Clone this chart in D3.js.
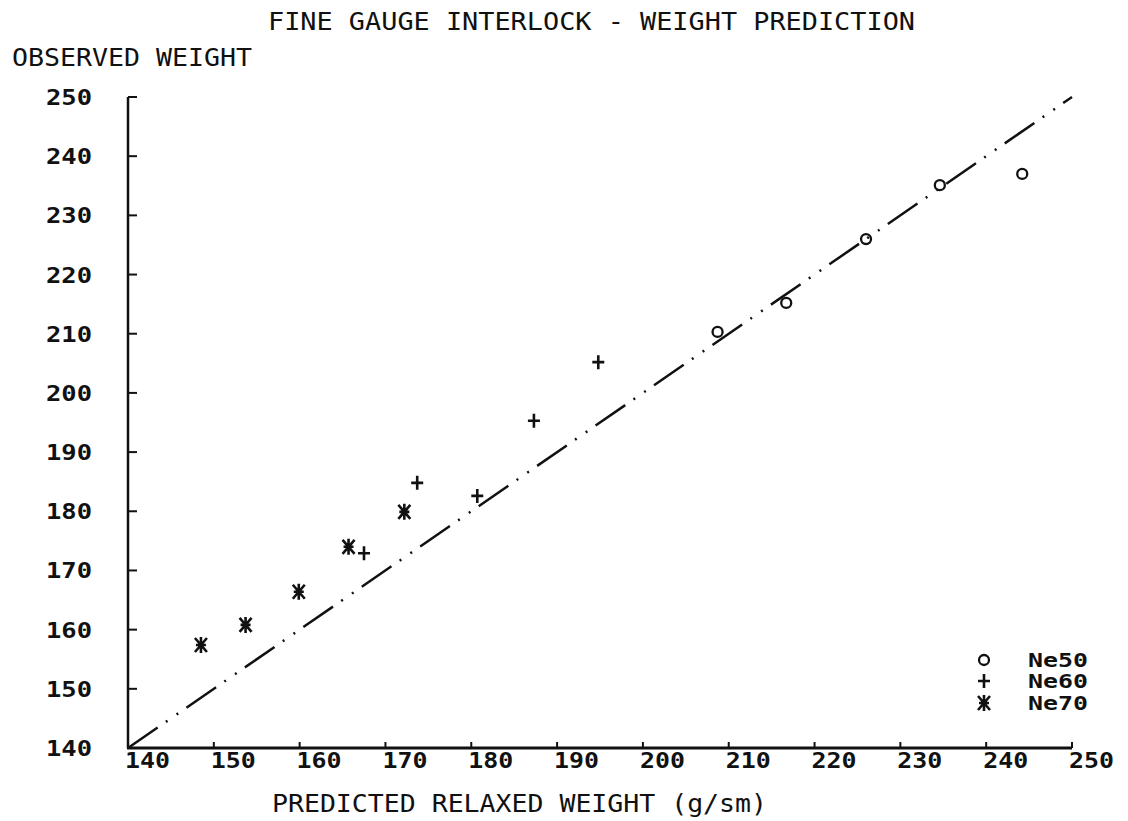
<!DOCTYPE html>
<html><head><meta charset="utf-8">
<script src="https://cdn.jsdelivr.net/npm/d3@7"></script>
<style>body{margin:0;background:#fff}svg{display:block}</style>
</head><body>
<script>
const title = "FINE GAUGE INTERLOCK - WEIGHT PREDICTION";
const yTitle = "OBSERVED WEIGHT";
const xTitle = "PREDICTED RELAXED WEIGHT (g/sm)";
const xTicks = [140,150,160,170,180,190,200,210,220,230,240,250];
const yTicks = [140,150,160,170,180,190,200,210,220,230,240,250];
const seriesNames = ["Ne50","Ne60","Ne70"];
const ne50X = [208.7,216.7,226.0,234.6,244.2];
const ne50Y = [210.3,215.2,226.0,235.1,237.0];
const ne60X = [167.5,173.7,180.7,187.3,194.8];
const ne60Y = [172.9,184.8,182.6,195.3,205.2];
const ne70X = [148.5,153.7,159.9,165.7,172.2];
const ne70Y = [157.4,160.8,166.4,174.0,179.9];
const refLine = [[140,140],[250,250]];

const W=1128,H=821;
const svg=d3.select("body").append("svg").attr("width",W).attr("height",H);
const x=d3.scaleLinear().domain([140,250]).range([128,1072]);
const y=d3.scaleLinear().domain([140,250]).range([748,97]);
const mono="'DejaVu Sans Mono', 'Liberation Mono', monospace";
const ink="#111";

function txt(s,xp,yp,size,len,anchor,weight){
  const t=svg.append("text").attr("x",xp).attr("y",yp).text(s)
    .attr("font-family",mono).attr("font-size",size).attr("fill",ink)
    .attr("font-weight",weight||"normal")
    .attr("text-anchor",anchor||"start");
  if(len) t.attr("textLength",len).attr("lengthAdjust","spacingAndGlyphs");
  return t;
}
txt(title,268,30,25,647);
txt(yTitle,12,66,24,240);
txt(xTitle,272,812,24,495);

// axes
svg.append("line").attr("x1",x(140)).attr("x2",x(140)).attr("y1",y(250)).attr("y2",y(140))
  .attr("stroke",ink).attr("stroke-width",2.5);
svg.append("line").attr("x1",x(140)-1).attr("x2",x(250)).attr("y1",y(140)).attr("y2",y(140))
  .attr("stroke",ink).attr("stroke-width",3);
yTicks.forEach(v=>{
  if(v>140) svg.append("line").attr("x1",x(140)).attr("x2",x(140)+9).attr("y1",y(v)).attr("y2",y(v))
    .attr("stroke",ink).attr("stroke-width",2);
  txt(String(v),92,y(v)+8,21,46,"end","bold");
});
xTicks.forEach(v=>{
  if(v>140) svg.append("line").attr("x1",x(v)).attr("x2",x(v)).attr("y1",y(140)).attr("y2",y(140)-6)
    .attr("stroke",ink).attr("stroke-width",2);
  txt(String(v),x(v)-3,768,21,45,"start","bold");
});

// reference line
svg.append("path").attr("d",d3.line().x(d=>x(d[0])).y(d=>y(d[1]))(refLine))
  .attr("fill","none").attr("stroke",ink).attr("stroke-width",2.5)
  .attr("stroke-dasharray","36,10,2,11,2,10");

// markers
function circ(g,cx,cy){g.append("circle").attr("cx",cx).attr("cy",cy).attr("r",5)
  .attr("fill","none").attr("stroke",ink).attr("stroke-width",2.3);}
function plus(g,cx,cy){g.append("path").attr("d",`M${cx-6},${cy}H${cx+6}M${cx},${cy-7}V${cy+7}`)
  .attr("stroke",ink).attr("stroke-width",2.6).attr("fill","none");}
function star(g,cx,cy){g.append("path").attr("d",
  `M${cx},${cy-8}V${cy+8}M${cx-6},${cy-7}L${cx+6},${cy+7}M${cx+6},${cy-7}L${cx-6},${cy+7}M${cx-5},${cy}H${cx+5}`)
  .attr("stroke",ink).attr("stroke-width",2.6).attr("fill","none");}
const g=svg.append("g");
ne50X.forEach((v,i)=>circ(g,x(v),y(ne50Y[i])));
ne60X.forEach((v,i)=>plus(g,x(v),y(ne60Y[i])));
ne70X.forEach((v,i)=>star(g,x(v),y(ne70Y[i])));

// legend
const legY=[660,681,703];
const makers=[circ,plus,star];
seriesNames.forEach((n,i)=>{
  makers[i](g,984,legY[i]);
  txt(n,1028,legY[i]+7,19,60,"start","bold");
});
</script>
</body></html>
